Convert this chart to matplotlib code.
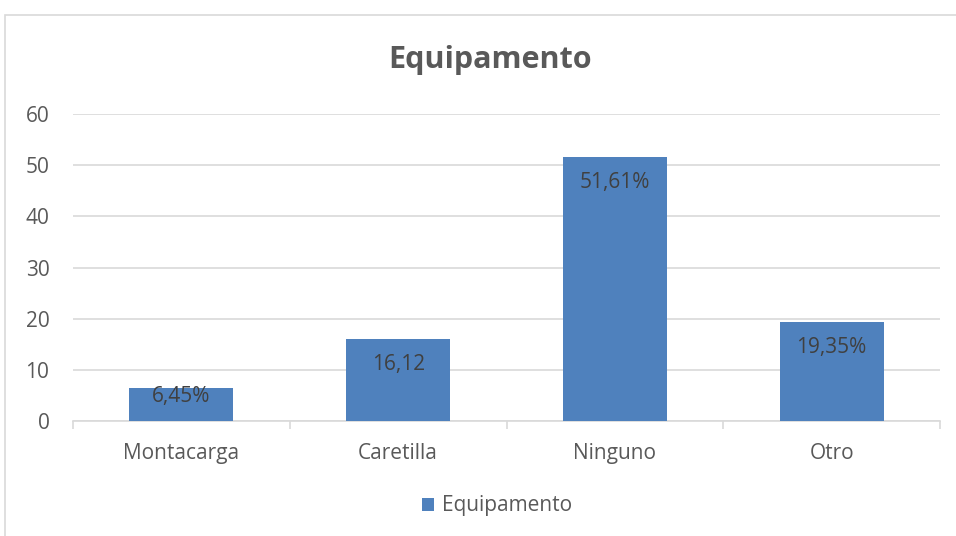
import matplotlib
matplotlib.use("Agg")
import matplotlib.pyplot as plt
from matplotlib.patches import Rectangle

categories = ["Montacarga", "Caretilla", "Ninguno", "Otro"]
values = [6.45, 16.12, 51.61, 19.35]
value_labels = ["6,45%", "16,12", "51,61%", "19,35%"]
yticks = [0, 10, 20, 30, 40, 50, 60]

plt.rcParams["font.family"] = ["Open Sans", "DejaVu Sans"]
text_col = "#595959"
grid_col = "#d9d9d9"
bar_col = "#4f81bd"

fig = plt.figure(figsize=(9.56, 5.36), dpi=100)
ax = fig.add_axes([73 / 956, 1 - 421 / 536, 867 / 956, 307 / 536])

# chart border (runs off the right and bottom edges)
fig.patches.append(Rectangle((5 / 956, -0.1), 1.2, 1 - 15 / 536 + 0.1,
                             transform=fig.transFigure, fill=False,
                             edgecolor=grid_col, lw=1.2))

x = range(len(categories))
bars = ax.bar(x, values, width=0.48, color=bar_col, zorder=3, label="Equipamento")

for xi, v, lab in zip(x, values, value_labels):
    top = v - 3.0 if v > 10 else v + 0.3
    ax.text(xi, top, lab, ha="center", va="top", fontsize=15,
            color="#404040", zorder=4)

ax.set_xlim(-0.5, len(categories) - 0.5)
ax.set_ylim(0, 60)
ax.set_yticks(yticks)
ax.yaxis.grid(True, color=grid_col, lw=1.2, zorder=0)
ax.set_xticks(list(x))
ax.set_xticklabels(categories)
ax.set_xticks([i - 0.5 for i in range(len(categories) + 1)], minor=True)
ax.tick_params(axis="x", which="major", length=0, pad=16, labelsize=15, labelcolor=text_col)
ax.tick_params(axis="x", which="minor", length=6, color=grid_col, width=1.2)
ax.tick_params(axis="y", length=0, pad=17, labelsize=15, labelcolor=text_col)
for s in ["left", "right", "top"]:
    ax.spines[s].set_visible(False)
ax.spines["bottom"].set_color(grid_col)
ax.spines["bottom"].set_linewidth(1.2)

fig.text(490 / 956, 1 - 60 / 536, "Equipamento", ha="center", va="center",
         fontsize=22, fontweight="bold", color=text_col)

fig.legend(handles=[bars], labels=["Equipamento"], loc="center",
           bbox_to_anchor=(497 / 956, 1 - 506 / 536), frameon=False,
           fontsize=15, labelcolor=text_col, handlelength=0.6,
           handleheight=0.6, handletextpad=0.4)

fig.savefig("out.png", dpi=100)
